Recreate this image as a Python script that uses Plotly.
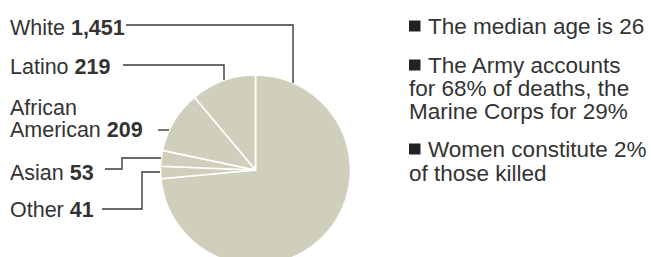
import plotly.graph_objects as go

# ---- data ----
groups = ["White", "Other", "Asian", "African American", "Latino"]
deaths = [1451, 41, 53, 209, 219]
label_names = ["White", "Latino", "African<br>American", "Asian", "Other"]
label_values = ["1,451", "219", "209", "53", "41"]
facts = [
    ["The median age is 26"],
    ["The Army accounts", "for 68% of deaths, the", "Marine Corps for 29%"],
    ["Women constitute 2%", "of those killed"],
]

W, H = 651, 280
PIE = "#d0cfbb"
INK = "#333333"
FONT = "Liberation Sans, Arial, sans-serif"


def px(x):
    return x / W


def py(y):
    return (H - y) / H


fig = go.Figure()

cx, cy, r = 255.5, 170, 95
fig.add_trace(go.Pie(
    labels=groups, values=deaths, sort=False, direction="clockwise", rotation=0,
    marker=dict(colors=[PIE] * len(groups), line=dict(color="white", width=1.6)),
    textinfo="none", hoverinfo="skip", showlegend=False,
    domain=dict(x=[px(cx - r), px(cx + r)], y=[py(cy + r), py(cy - r)]),
))

annotations = []
shapes = []

# left labels: baselines
lfs = 21.5
left_pos = [(35, None), (74, None), (115, 137), (180, None), (217, None)]
for name, val, (b1, b2) in zip(label_names, label_values, left_pos):
    if b2 is None:
        annotations.append(dict(
            x=px(10), y=py(b1 - 0.3465 * lfs), xref="paper", yref="paper",
            text=f"{name} <b>{val}</b>", showarrow=False, xanchor="left", yanchor="middle",
            align="left", borderpad=0, borderwidth=0,
            font=dict(family=FONT, size=lfs, color=INK)))
    else:
        first, second = name.split("<br>")
        annotations.append(dict(
            x=px(10), y=py(b1 - 0.3465 * lfs), xref="paper", yref="paper",
            text=first, showarrow=False, xanchor="left", yanchor="middle",
            borderpad=0, borderwidth=0, font=dict(family=FONT, size=lfs, color=INK)))
        annotations.append(dict(
            x=px(10), y=py(b2 - 0.3465 * lfs), xref="paper", yref="paper",
            text=f"{second} <b>{val}</b>", showarrow=False, xanchor="left", yanchor="middle",
            borderpad=0, borderwidth=0, font=dict(family=FONT, size=lfs, color=INK)))

# leader lines
leaders = [
    [(126, 25), (293, 25), (293, 83)],
    [(123, 65), (224, 65), (224, 80)],
    [(158, 130), (169, 130)],
    [(105, 169), (122, 169), (122, 158), (161, 158)],
    [(102, 209), (142, 209), (142, 172), (160, 172)],
]
for pts in leaders:
    path = "M " + " L ".join(f"{px(x):.5f},{py(y):.5f}" for x, y in pts)
    shapes.append(dict(type="path", path=path, xref="paper", yref="paper",
                       line=dict(color="#3a3a3a", width=1.4)))

# right facts
rfs = 22.5
fact_baselines = [[34], [73, 96, 119], [157, 181]]
for lines, bases in zip(facts, fact_baselines):
    for i, (t, b) in enumerate(zip(lines, bases)):
        x0 = 428 if i == 0 else 409
        annotations.append(dict(
            x=px(x0), y=py(b - 0.3465 * rfs), xref="paper", yref="paper",
            text=t, showarrow=False, xanchor="left", yanchor="middle",
            borderpad=0, borderwidth=0, font=dict(family=FONT, size=rfs, color=INK)))
    b = bases[0]
    shapes.append(dict(type="rect", xref="paper", yref="paper",
                       x0=px(409), x1=px(420.5), y0=py(b - 2.5), y1=py(b - 13.5),
                       fillcolor="#222222", line=dict(width=0)))

fig.update_layout(
    width=W, height=H, margin=dict(l=0, r=0, t=0, b=0),
    paper_bgcolor="white", plot_bgcolor="white",
    annotations=annotations, shapes=shapes,
)

fig.write_html(
    "out.html",
    config={"displayModeBar": False},
    post_script="document.body.style.margin='0';document.body.style.overflow='hidden';"
                "document.documentElement.style.overflow='hidden';",
)
